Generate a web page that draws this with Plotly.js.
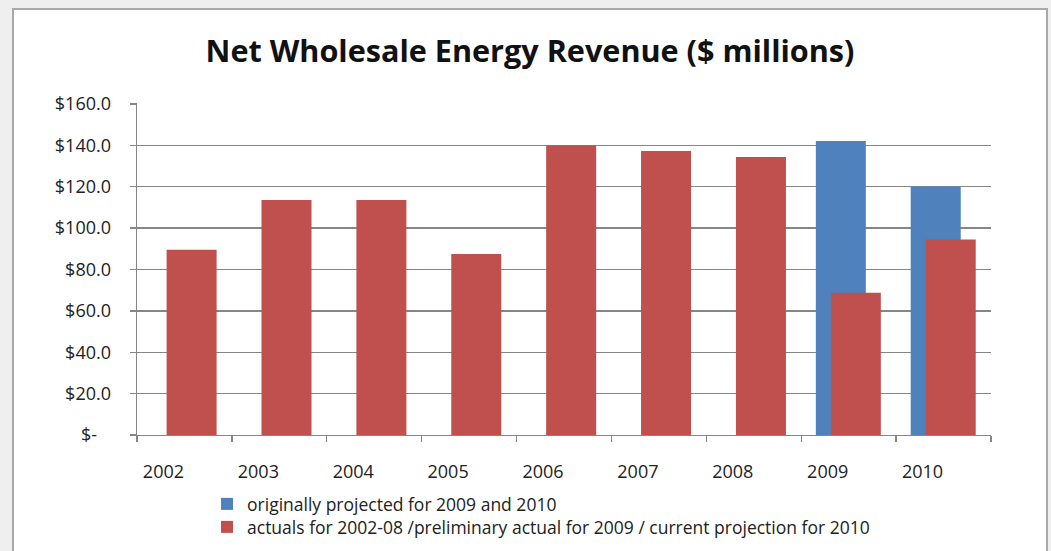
<!DOCTYPE html>
<html>
<head>
<meta charset="utf-8">
<script src="https://cdn.plot.ly/plotly-3.0.1.min.js"></script>
<style>
  html, body { margin: 0; padding: 0; background: #efefef; width: 1051px; height: 551px; overflow: hidden; }
  #frame { position: absolute; left: 12px; top: 8px; width: 1036px; height: 543px; box-sizing: border-box;
           border: 2px solid #a9a9a9; border-bottom: none; background: #ffffff; overflow: hidden; }
  #chart { width: 1032px; height: 600px; }
</style>
</head>
<body>
<div id="frame"><div id="chart"></div></div>
<script>
// ---- data ----
const years = ['2002', '2003', '2004', '2005', '2006', '2007', '2008', '2009', '2010'];
const originalProjection = [null, null, null, null, null, null, null, 142.0, 120.0];
const actualsAndCurrent = [89.5, 113.5, 113.5, 87.5, 140.0, 137.2, 134.3, 68.7, 94.5];
const seriesNames = ['originally projected for 2009 and 2010',
                     'actuals for 2002-08 /preliminary actual for 2009 / current projection for 2010'];
const yTickValues = [0, 20, 40, 60, 80, 100, 120, 140, 160];
const yTickLabels = ['$-\u00a0\u00a0\u00a0', '$20.0', '$40.0', '$60.0', '$80.0', '$100.0', '$120.0', '$140.0', '$160.0'];
const chartTitle = 'Net Wholesale Energy Revenue ($ millions)';

const FONT = '"Open Sans", Lato, sans-serif';
const GRID = '#868686';

const traces = [
  {
    type: 'bar', name: seriesNames[0], x: years, y: originalProjection, legend: 'legend',
    marker: { color: '#4F81BD' }, width: 0.527, offset: -0.346, hoverinfo: 'x+y'
  },
  {
    type: 'bar', name: seriesNames[1], x: years, y: actualsAndCurrent, legend: 'legend2',
    marker: { color: '#C0504D' }, width: 0.527, offset: -0.188, hoverinfo: 'x+y'
  }
];

const legendCommon = {
  orientation: 'v', xref: 'paper', yref: 'paper',
  x: 0.082, xanchor: 'left', yanchor: 'middle',
  font: { family: FONT, size: 17.5, color: '#222222' },
  bgcolor: 'rgba(0,0,0,0)', borderwidth: 0, itemwidth: 30
};

const layout = {
  width: 1032, height: 600,
  margin: { l: 123, r: 55, t: 93, b: 175 },
  paper_bgcolor: '#ffffff', plot_bgcolor: '#ffffff',
  barmode: 'overlay',
  font: { family: FONT, color: '#222222', size: 17 },
  title: {
    text: '<b>' + chartTitle + '</b>',
    font: { family: FONT, size: 30.6, color: '#111111' },
    x: 0.5, xanchor: 'center', xref: 'container',
    y: 1 - 41 / 600, yanchor: 'middle', yref: 'container'
  },
  xaxis: {
    type: 'category',
    showgrid: false, zeroline: false,
    showline: true, linecolor: GRID, linewidth: 1.4,
    ticks: 'outside', tickson: 'boundaries', ticklen: 6, tickcolor: GRID, tickwidth: 1.4,
    ticklabelshift: -21, ticklabelstandoff: 20, tickangle: 0,
    tickfont: { family: FONT, size: 18, color: '#222222' }
  },
  yaxis: {
    range: [0, 160.4],
    tickvals: yTickValues, ticktext: yTickLabels,
    showgrid: true, gridcolor: GRID, gridwidth: 1.4,
    zeroline: false,
    showline: true, linecolor: GRID, linewidth: 1.4,
    ticks: 'outside', ticklen: 6, tickcolor: GRID, tickwidth: 1.4,
    ticklabelstandoff: 15,
    tickfont: { family: FONT, size: 18, color: '#222222' }
  },
  showlegend: true,
  legend: Object.assign({}, legendCommon, { y: (425 - 494) / 332 }),
  legend2: Object.assign({}, legendCommon, { y: (425 - 517) / 332 })
};

Plotly.newPlot('chart', traces, layout, { displayModeBar: false, staticPlot: true });
</script>
</body>
</html>
